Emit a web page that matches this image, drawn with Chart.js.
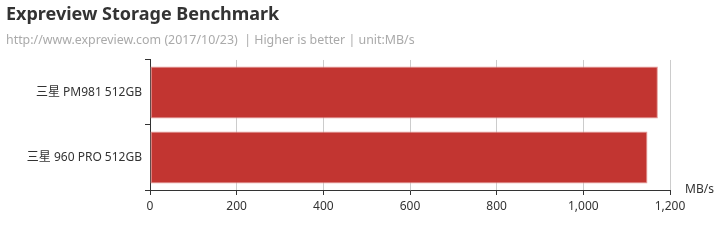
<!DOCTYPE html>
<html>
<head>
<meta charset="utf-8">
<script src="https://cdn.jsdelivr.net/npm/chart.js@4/dist/chart.umd.min.js"></script>
<style>
html,body{margin:0;padding:0;background:#fff;}
#wrap{width:720px;height:250px;position:relative;}
</style>
</head>
<body>
<div id="wrap"><canvas id="c" width="720" height="250"></canvas></div>
<script>
const categories = ["三星 PM981 512GB", "三星 960 PRO 512GB"];
const values = [1172, 1148];
const titleText = "Expreview Storage Benchmark";
const subtitleText = "http://www.expreview.com (2017/10/23)  | Higher is better | unit:MB/s";
const unitLabel = "MB/s";

const FONT = "'Noto Sans', 'Noto Sans CJK SC', sans-serif";

const unitPlugin = {
  id: 'unitLabel',
  afterDraw(chart) {
    const ctx = chart.ctx;
    const a = chart.chartArea;
    ctx.save();
    ctx.font = "12px " + FONT;
    ctx.fillStyle = "#333";
    ctx.textAlign = "left";
    ctx.textBaseline = "middle";
    ctx.fillText(unitLabel, a.right + 15, a.bottom);
    ctx.restore();
  }
};

new Chart(document.getElementById('c'), {
  type: 'bar',
  data: {
    labels: categories,
    datasets: [{
      data: values,
      backgroundColor: '#c23531',
      borderColor: '#e59a97',
      borderWidth: 1,
      borderSkipped: false,
      categoryPercentage: 1,
      barPercentage: 0.8
    }]
  },
  plugins: [unitPlugin],
  options: {
    indexAxis: 'y',
    responsive: false,
    animation: false,
    devicePixelRatio: 1,
    layout: { padding: { left: 6, right: 50, top: 0, bottom: 0 } },
    plugins: {
      legend: { display: false },
      tooltip: { enabled: false },
      title: {
        display: true, text: titleText, align: 'start', color: '#333',
        font: { family: FONT, size: 18, weight: 'bold', lineHeight: 1.2 },
        padding: { top: 4, bottom: 2 }
      },
      subtitle: {
        display: true, text: subtitleText, align: 'start', color: '#aaa',
        font: { family: FONT, size: 12.4, lineHeight: 1.2 },
        padding: { top: 5, bottom: 12.5 }
      }
    },
    scales: {
      x: {
        min: 0, max: 1200,
        ticks: { stepSize: 200, color: '#333', font: { family: FONT, size: 12 }, padding: 4 },
        grid: { color: '#ccc', tickColor: '#333', tickLength: 5, drawTicks: true },
        border: { display: true, color: '#333', width: 1 },
        afterFit(s) { s.height = 60; }
      },
      y: {
        ticks: { color: '#333', font: { family: FONT, size: 12 }, padding: 3 },
        grid: { drawOnChartArea: false, tickColor: '#333', color: '#333', tickLength: 5, offset: true },
        border: { display: true, color: '#333', width: 1 },
        afterFit(s) { s.width = 144; }
      }
    }
  }
});
</script>
</body>
</html>
